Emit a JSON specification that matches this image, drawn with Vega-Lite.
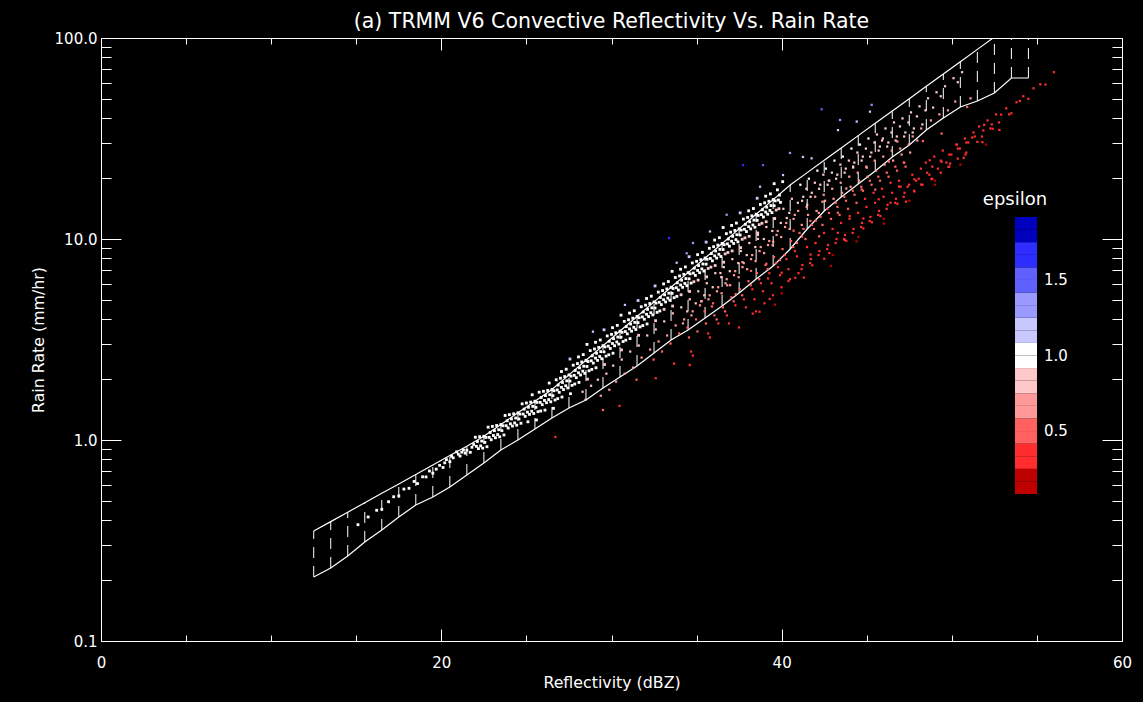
{
"$schema": "https://vega.github.io/schema/vega-lite/v6.json",
"autosize": {"type": "none"},
"padding": {"left": 101, "top": 38, "right": 21, "bottom": 61},
"width": 1021,
"height": 603,
"background": "black",
"title": {"text": "(a) TRMM V6 Convective Reflectivity Vs. Rain Rate", "color": "white", "fontSize": 20.5, "fontWeight": "normal", "font": "DejaVu Sans", "anchor": "middle", "frame": "group", "baseline": "alphabetic", "offset": 10, "dy": 27},
"config": {
  "font": "DejaVu Sans",
  "view": {"stroke": "white", "strokeWidth": 1, "fill": "black"},
  "axis": {"labelColor": "white", "titleColor": "white", "tickColor": "white", "domainColor": "white", "labelFont": "DejaVu Sans", "titleFont": "DejaVu Sans", "titleFontWeight": "normal", "grid": false, "labelFontSize": 15, "titleFontSize": 15.8, "tickWidth": 1, "labelFlush": false, "labelOverlap": false}
},
"datasets": {
"env": [
{"dbz":12.5,"lo":0.2082,"hi":0.3526},{"dbz":13.5,"lo":0.2307,"hi":0.3926},{"dbz":14.5,"lo":0.2648,"hi":0.4372},{"dbz":15.5,"lo":0.3109,"hi":0.4876},{"dbz":16.5,"lo":0.3566,"hi":0.543},{"dbz":17.5,"lo":0.4139,"hi":0.6046},{"dbz":18.5,"lo":0.4749,"hi":0.6734},{"dbz":19.5,"lo":0.5205,"hi":0.7511},{"dbz":20.5,"lo":0.5835,"hi":0.8365},{"dbz":21.5,"lo":0.6695,"hi":0.9311},{"dbz":22.5,"lo":0.7683,"hi":1.0445},{"dbz":23.5,"lo":0.8917,"hi":1.194},{"dbz":24.5,"lo":1.0,"hi":1.365},{"dbz":25.5,"lo":1.1342,"hi":1.56},{"dbz":26.5,"lo":1.2868,"hi":1.783},{"dbz":27.5,"lo":1.443,"hi":2.108},{"dbz":28.5,"lo":1.5812,"hi":2.492},{"dbz":29.5,"lo":1.8143,"hi":2.946},{"dbz":30.5,"lo":2.0582,"hi":3.483},{"dbz":31.5,"lo":2.3342,"hi":4.118},{"dbz":32.5,"lo":2.7088,"hi":4.867},{"dbz":33.5,"lo":3.1443,"hi":5.754},{"dbz":34.5,"lo":3.5268,"hi":6.803},{"dbz":35.5,"lo":4.0458,"hi":8.038},{"dbz":36.5,"lo":4.6416,"hi":9.504},{"dbz":37.5,"lo":5.3857,"hi":11.23},{"dbz":38.5,"lo":6.3241,"hi":13.28},{"dbz":39.5,"lo":7.3389,"hi":15.7},{"dbz":40.5,"lo":8.9182,"hi":18.56},{"dbz":41.5,"lo":11.215,"hi":21.39},{"dbz":42.5,"lo":13.784,"hi":24.64},{"dbz":43.5,"lo":16.181,"hi":28.38},{"dbz":44.5,"lo":18.775,"hi":32.68},{"dbz":45.5,"lo":21.79,"hi":37.63},{"dbz":46.5,"lo":25.59,"hi":43.34},{"dbz":47.5,"lo":29.36,"hi":49.9},{"dbz":48.5,"lo":34.85,"hi":57.47},{"dbz":49.5,"lo":39.99,"hi":66.19},{"dbz":50.5,"lo":45.37,"hi":76.21},{"dbz":51.5,"lo":48.6,"hi":87.77},{"dbz":52.5,"lo":53.27,"hi":101.1},{"dbz":53.5,"lo":63.24,"hi":116.4},{"dbz":54.5,"lo":63.24,"hi":134.0}
],
"band": [
{"dbz":15.1,"rate":0.379,"eps":1},{"dbz":15.7,"rate":0.414,"eps":1},{"dbz":16.2,"rate":0.447,"eps":1},{"dbz":16.5,"rate":0.452,"eps":1},{"dbz":16.9,"rate":0.493,"eps":1},{"dbz":17.2,"rate":0.522,"eps":1},{"dbz":17.5,"rate":0.527,"eps":1},{"dbz":17.8,"rate":0.57,"eps":1},{"dbz":18.1,"rate":0.575,"eps":1},{"dbz":18.4,"rate":0.622,"eps":1},{"dbz":18.6,"rate":0.607,"eps":1},{"dbz":18.9,"rate":0.656,"eps":1},{"dbz":19.1,"rate":0.655,"eps":1},{"dbz":19.3,"rate":0.701,"eps":1},{"dbz":19.5,"rate":0.684,"eps":1},{"dbz":19.7,"rate":0.716,"eps":1},{"dbz":19.9,"rate":0.748,"eps":1},{"dbz":20.1,"rate":0.73,"eps":1},{"dbz":20.2,"rate":0.77,"eps":1},{"dbz":20.3,"rate":0.799,"eps":1},{"dbz":20.5,"rate":0.78,"eps":1},{"dbz":20.6,"rate":0.83,"eps":1},{"dbz":20.7,"rate":0.815,"eps":1},{"dbz":20.9,"rate":0.873,"eps":1},{"dbz":21.0,"rate":0.85,"eps":1},{"dbz":21.1,"rate":0.832,"eps":1},{"dbz":21.2,"rate":0.87,"eps":1},{"dbz":21.3,"rate":0.891,"eps":1},{"dbz":21.4,"rate":0.86,"eps":1},{"dbz":21.5,"rate":0.889,"eps":1},{"dbz":21.7,"rate":0.868,"eps":1},{"dbz":21.8,"rate":0.92,"eps":1},{"dbz":21.9,"rate":0.95,"eps":1},
{"dbz":22.0,"rate":1.032,"eps":1},{"dbz":22.12,"rate":0.983,"eps":1},{"dbz":22.06,"rate":0.93,"eps":1},{"dbz":22.18,"rate":0.906,"eps":1},
{"dbz":22.25,"rate":1.038,"eps":1},{"dbz":22.37,"rate":0.988,"eps":1},{"dbz":22.31,"rate":0.935,"eps":1},{"dbz":22.43,"rate":0.911,"eps":1},
{"dbz":22.5,"rate":1.044,"eps":1},{"dbz":22.62,"rate":1.03,"eps":1},{"dbz":22.56,"rate":0.973,"eps":1},{"dbz":22.68,"rate":0.926,"eps":1},
{"dbz":22.75,"rate":1.158,"eps":1},{"dbz":22.87,"rate":1.09,"eps":1},{"dbz":22.81,"rate":1.03,"eps":1},{"dbz":22.93,"rate":1.003,"eps":1},
{"dbz":23.0,"rate":1.169,"eps":1},{"dbz":23.12,"rate":1.113,"eps":1},{"dbz":23.06,"rate":1.053,"eps":1},{"dbz":23.18,"rate":1.026,"eps":1},
{"dbz":23.25,"rate":1.181,"eps":1},{"dbz":23.37,"rate":1.125,"eps":1},{"dbz":23.31,"rate":1.064,"eps":1},{"dbz":23.43,"rate":1.037,"eps":1},
{"dbz":23.5,"rate":1.194,"eps":1},{"dbz":23.62,"rate":1.177,"eps":1},{"dbz":23.56,"rate":1.113,"eps":1},{"dbz":23.68,"rate":1.059,"eps":1},
{"dbz":23.75,"rate":1.324,"eps":1},{"dbz":23.87,"rate":1.246,"eps":1},{"dbz":23.81,"rate":1.178,"eps":1},{"dbz":23.93,"rate":1.147,"eps":1},
{"dbz":24.0,"rate":1.337,"eps":1},{"dbz":24.12,"rate":1.273,"eps":1},{"dbz":24.06,"rate":1.204,"eps":1},{"dbz":24.18,"rate":1.173,"eps":1},
{"dbz":24.25,"rate":1.35,"eps":1},{"dbz":24.37,"rate":1.286,"eps":1},{"dbz":24.31,"rate":1.216,"eps":1},{"dbz":24.43,"rate":1.185,"eps":1},
{"dbz":24.5,"rate":1.365,"eps":1},{"dbz":24.62,"rate":1.346,"eps":1},{"dbz":24.56,"rate":1.272,"eps":1},{"dbz":24.68,"rate":1.211,"eps":1},
{"dbz":24.75,"rate":1.513,"eps":1},{"dbz":24.87,"rate":1.424,"eps":1},{"dbz":24.81,"rate":1.346,"eps":1},{"dbz":24.93,"rate":1.311,"eps":1},
{"dbz":25.0,"rate":1.528,"eps":1},{"dbz":25.12,"rate":1.455,"eps":1},{"dbz":25.06,"rate":1.376,"eps":1},{"dbz":25.18,"rate":1.341,"eps":1},{"dbz":25.09,"rate":1.232,"eps":1},
{"dbz":25.25,"rate":1.544,"eps":1},{"dbz":25.37,"rate":1.47,"eps":1},{"dbz":25.31,"rate":1.39,"eps":1},{"dbz":25.43,"rate":1.355,"eps":1},{"dbz":25.34,"rate":1.679,"eps":1},
{"dbz":25.5,"rate":1.56,"eps":1},{"dbz":25.62,"rate":1.538,"eps":1},{"dbz":25.56,"rate":1.454,"eps":1},{"dbz":25.68,"rate":1.384,"eps":1},{"dbz":25.59,"rate":1.258,"eps":1},
{"dbz":25.75,"rate":1.729,"eps":1},{"dbz":25.87,"rate":1.628,"eps":1},{"dbz":25.81,"rate":1.539,"eps":1},{"dbz":25.93,"rate":1.499,"eps":1},{"dbz":25.84,"rate":1.394,"eps":1},
{"dbz":26.0,"rate":1.747,"eps":1},{"dbz":26.12,"rate":1.663,"eps":1},{"dbz":26.06,"rate":1.573,"eps":1},{"dbz":26.18,"rate":1.533,"eps":1},{"dbz":26.09,"rate":1.408,"eps":1},
{"dbz":26.25,"rate":1.764,"eps":1},{"dbz":26.37,"rate":1.68,"eps":1},{"dbz":26.31,"rate":1.589,"eps":1},{"dbz":26.43,"rate":1.549,"eps":1},{"dbz":26.34,"rate":1.92,"eps":1},
{"dbz":26.5,"rate":1.784,"eps":1},{"dbz":26.62,"rate":1.759,"eps":1},{"dbz":26.56,"rate":1.662,"eps":1},{"dbz":26.68,"rate":1.582,"eps":1},{"dbz":26.59,"rate":1.437,"eps":1},
{"dbz":26.75,"rate":1.993,"eps":1},{"dbz":26.87,"rate":1.876,"eps":1},{"dbz":26.81,"rate":1.774,"eps":1},{"dbz":26.93,"rate":1.727,"eps":1},{"dbz":26.84,"rate":1.606,"eps":1},
{"dbz":27.0,"rate":2.03,"eps":1},{"dbz":27.12,"rate":1.933,"eps":1},{"dbz":27.06,"rate":1.828,"eps":1},{"dbz":27.18,"rate":1.782,"eps":1},{"dbz":27.09,"rate":1.636,"eps":1},
{"dbz":27.25,"rate":2.068,"eps":1},{"dbz":27.37,"rate":1.969,"eps":1},{"dbz":27.31,"rate":1.862,"eps":1},{"dbz":27.43,"rate":1.815,"eps":1},{"dbz":27.34,"rate":2.25,"eps":1},
{"dbz":27.5,"rate":2.108,"eps":1},{"dbz":27.62,"rate":2.078,"eps":1},{"dbz":27.56,"rate":1.965,"eps":1},{"dbz":27.68,"rate":1.87,"eps":1},{"dbz":27.59,"rate":1.699,"eps":1},
{"dbz":27.75,"rate":2.356,"eps":1},{"dbz":27.87,"rate":2.218,"eps":1},{"dbz":27.81,"rate":2.097,"eps":1},{"dbz":27.93,"rate":2.042,"eps":1},{"dbz":27.84,"rate":1.899,"eps":1},
{"dbz":28.0,"rate":2.4,"eps":1},{"dbz":28.12,"rate":2.285,"eps":1},{"dbz":28.06,"rate":2.161,"eps":1},{"dbz":28.18,"rate":2.106,"eps":1},{"dbz":28.09,"rate":1.934,"eps":1},
{"dbz":28.25,"rate":2.445,"eps":1},{"dbz":28.37,"rate":2.328,"eps":1},{"dbz":28.31,"rate":2.201,"eps":1},{"dbz":28.43,"rate":2.146,"eps":1},{"dbz":28.34,"rate":2.66,"eps":1},
{"dbz":28.5,"rate":2.492,"eps":1},{"dbz":28.62,"rate":2.457,"eps":1},{"dbz":28.56,"rate":2.322,"eps":1},{"dbz":28.68,"rate":2.21,"eps":1},{"dbz":28.59,"rate":2.008,"eps":0.85},
{"dbz":28.75,"rate":2.785,"eps":1},{"dbz":28.87,"rate":2.622,"eps":1},{"dbz":28.81,"rate":2.479,"eps":1},{"dbz":28.93,"rate":2.414,"eps":1},{"dbz":28.84,"rate":2.245,"eps":1},
{"dbz":29.0,"rate":2.837,"eps":1},{"dbz":29.12,"rate":2.701,"eps":1},{"dbz":29.06,"rate":2.555,"eps":1},{"dbz":29.18,"rate":2.49,"eps":1},{"dbz":29.09,"rate":2.287,"eps":1},
{"dbz":29.25,"rate":2.89,"eps":1},{"dbz":29.37,"rate":2.752,"eps":1},{"dbz":29.31,"rate":2.602,"eps":1},{"dbz":29.43,"rate":2.537,"eps":1},{"dbz":29.34,"rate":3.144,"eps":1},
{"dbz":29.5,"rate":2.946,"eps":1},{"dbz":29.62,"rate":2.905,"eps":1},{"dbz":29.56,"rate":2.746,"eps":1},{"dbz":29.68,"rate":2.613,"eps":1},{"dbz":29.59,"rate":2.374,"eps":0.85},
{"dbz":29.75,"rate":3.293,"eps":1},{"dbz":29.87,"rate":3.099,"eps":1},{"dbz":29.81,"rate":2.93,"eps":1},{"dbz":29.93,"rate":2.854,"eps":1},{"dbz":29.84,"rate":2.654,"eps":1},
{"dbz":30.0,"rate":3.354,"eps":1},{"dbz":30.12,"rate":3.193,"eps":1},{"dbz":30.06,"rate":3.021,"eps":1},{"dbz":30.18,"rate":2.944,"eps":1},{"dbz":30.09,"rate":2.703,"eps":1},
{"dbz":30.25,"rate":3.417,"eps":1},{"dbz":30.37,"rate":3.253,"eps":1},{"dbz":30.31,"rate":3.076,"eps":1},{"dbz":30.43,"rate":2.999,"eps":1},{"dbz":30.34,"rate":3.717,"eps":1},
{"dbz":30.5,"rate":3.483,"eps":1},{"dbz":30.62,"rate":3.434,"eps":1},{"dbz":30.56,"rate":3.246,"eps":1},{"dbz":30.68,"rate":3.089,"eps":1},{"dbz":30.59,"rate":2.807,"eps":0.85},
{"dbz":30.75,"rate":3.893,"eps":1},{"dbz":30.87,"rate":3.664,"eps":1},{"dbz":30.81,"rate":3.464,"eps":1},{"dbz":30.93,"rate":3.374,"eps":1},{"dbz":30.84,"rate":3.138,"eps":1},
{"dbz":31.0,"rate":3.965,"eps":1},{"dbz":31.12,"rate":3.775,"eps":1},{"dbz":31.06,"rate":3.571,"eps":1},{"dbz":31.18,"rate":3.48,"eps":1},{"dbz":31.09,"rate":3.196,"eps":1},
{"dbz":31.25,"rate":4.039,"eps":1},{"dbz":31.37,"rate":3.846,"eps":1},{"dbz":31.31,"rate":3.637,"eps":1},{"dbz":31.43,"rate":3.546,"eps":1},{"dbz":31.34,"rate":4.395,"eps":1},
{"dbz":31.5,"rate":4.117,"eps":1},{"dbz":31.62,"rate":4.06,"eps":1},{"dbz":31.56,"rate":3.837,"eps":1},{"dbz":31.68,"rate":3.652,"eps":1},{"dbz":31.59,"rate":3.318,"eps":0.85},
{"dbz":31.75,"rate":4.602,"eps":1},{"dbz":31.87,"rate":4.332,"eps":1},{"dbz":31.81,"rate":4.096,"eps":1},{"dbz":31.93,"rate":3.988,"eps":1},{"dbz":31.84,"rate":3.709,"eps":1},
{"dbz":32.0,"rate":4.687,"eps":1},{"dbz":32.12,"rate":4.463,"eps":1},{"dbz":32.06,"rate":4.221,"eps":1},{"dbz":32.18,"rate":4.114,"eps":1},{"dbz":32.09,"rate":3.778,"eps":1},
{"dbz":32.25,"rate":4.775,"eps":1},{"dbz":32.37,"rate":4.546,"eps":1},{"dbz":32.31,"rate":4.299,"eps":1},{"dbz":32.43,"rate":4.192,"eps":1},{"dbz":32.34,"rate":5.195,"eps":1},
{"dbz":32.5,"rate":4.867,"eps":1},{"dbz":32.62,"rate":4.799,"eps":1},{"dbz":32.56,"rate":4.536,"eps":1},{"dbz":32.68,"rate":4.317,"eps":1},{"dbz":32.59,"rate":3.923,"eps":0.85},
{"dbz":32.75,"rate":5.441,"eps":1},{"dbz":32.87,"rate":5.121,"eps":1},{"dbz":32.81,"rate":4.842,"eps":1},{"dbz":32.93,"rate":4.715,"eps":1},{"dbz":32.84,"rate":4.385,"eps":1},
{"dbz":33.0,"rate":5.541,"eps":1},{"dbz":33.12,"rate":5.276,"eps":1},{"dbz":33.06,"rate":4.991,"eps":1},{"dbz":33.18,"rate":4.864,"eps":1},{"dbz":33.09,"rate":4.467,"eps":0.88},
{"dbz":33.25,"rate":5.645,"eps":1},{"dbz":33.37,"rate":5.375,"eps":1},{"dbz":33.31,"rate":5.082,"eps":1},{"dbz":33.43,"rate":4.955,"eps":1},{"dbz":33.34,"rate":6.142,"eps":1},
{"dbz":33.5,"rate":5.754,"eps":1},{"dbz":33.62,"rate":5.674,"eps":1},{"dbz":33.56,"rate":5.363,"eps":1},{"dbz":33.68,"rate":5.104,"eps":1},{"dbz":33.59,"rate":4.638,"eps":0.85},
{"dbz":33.75,"rate":6.432,"eps":1},{"dbz":33.87,"rate":6.054,"eps":1},{"dbz":33.81,"rate":5.724,"eps":1},{"dbz":33.93,"rate":5.574,"eps":1},{"dbz":33.84,"rate":5.184,"eps":1},
{"dbz":34.0,"rate":6.55,"eps":1},{"dbz":34.12,"rate":6.238,"eps":1},{"dbz":34.06,"rate":5.9,"eps":1},{"dbz":34.18,"rate":5.75,"eps":1},{"dbz":34.09,"rate":5.28,"eps":0.88},
{"dbz":34.25,"rate":6.674,"eps":1},{"dbz":34.37,"rate":6.354,"eps":1},{"dbz":34.31,"rate":6.008,"eps":1},{"dbz":34.43,"rate":5.858,"eps":1},{"dbz":34.34,"rate":7.261,"eps":1},
{"dbz":34.5,"rate":6.803,"eps":1},{"dbz":34.62,"rate":6.707,"eps":1},{"dbz":34.56,"rate":6.34,"eps":1},{"dbz":34.68,"rate":6.034,"eps":1},{"dbz":34.59,"rate":5.483,"eps":0.85},
{"dbz":34.75,"rate":7.604,"eps":1},{"dbz":34.87,"rate":7.157,"eps":1},{"dbz":34.81,"rate":6.767,"eps":1},{"dbz":34.93,"rate":6.59,"eps":1},{"dbz":34.84,"rate":6.129,"eps":0.88},
{"dbz":35.0,"rate":7.744,"eps":1},{"dbz":35.12,"rate":7.374,"eps":1},{"dbz":35.06,"rate":6.975,"eps":1},{"dbz":35.18,"rate":6.797,"eps":1},{"dbz":35.09,"rate":6.243,"eps":0.88},
{"dbz":35.25,"rate":7.89,"eps":1},{"dbz":35.37,"rate":7.512,"eps":1},{"dbz":35.31,"rate":7.103,"eps":1},{"dbz":35.43,"rate":6.926,"eps":1},{"dbz":35.34,"rate":8.584,"eps":1},
{"dbz":35.5,"rate":8.042,"eps":1},{"dbz":35.62,"rate":7.929,"eps":1},{"dbz":35.56,"rate":7.495,"eps":1},{"dbz":35.68,"rate":7.133,"eps":0.88},{"dbz":35.59,"rate":6.482,"eps":0.85},
{"dbz":35.75,"rate":8.989,"eps":1},{"dbz":35.87,"rate":8.461,"eps":1},{"dbz":35.81,"rate":8.0,"eps":1},{"dbz":35.93,"rate":7.79,"eps":1},{"dbz":35.84,"rate":7.245,"eps":0.88},
{"dbz":36.0,"rate":9.155,"eps":1},{"dbz":36.12,"rate":8.718,"eps":1},{"dbz":36.06,"rate":8.245,"eps":1},{"dbz":36.18,"rate":8.036,"eps":1},{"dbz":36.09,"rate":7.38,"eps":0.88},
{"dbz":36.25,"rate":9.327,"eps":1},{"dbz":36.37,"rate":8.88,"eps":1},{"dbz":36.31,"rate":8.397,"eps":1},{"dbz":36.43,"rate":8.187,"eps":1},{"dbz":36.34,"rate":10.15,"eps":1},
{"dbz":36.5,"rate":9.507,"eps":1},{"dbz":36.62,"rate":9.374,"eps":1},{"dbz":36.56,"rate":8.861,"eps":1},{"dbz":36.68,"rate":8.433,"eps":0.88},{"dbz":36.59,"rate":7.663,"eps":0.85},
{"dbz":36.75,"rate":10.63,"eps":1},{"dbz":36.87,"rate":10.0,"eps":1},{"dbz":36.81,"rate":9.457,"eps":1},{"dbz":36.93,"rate":9.209,"eps":1},{"dbz":36.84,"rate":8.565,"eps":0.88},
{"dbz":37.0,"rate":10.82,"eps":1},{"dbz":37.12,"rate":10.31,"eps":1},{"dbz":37.06,"rate":9.748,"eps":1},{"dbz":37.18,"rate":9.5,"eps":1},{"dbz":37.09,"rate":8.724,"eps":0.88},
{"dbz":37.25,"rate":11.03,"eps":1},{"dbz":37.37,"rate":10.5,"eps":1},{"dbz":37.31,"rate":9.927,"eps":1},{"dbz":37.43,"rate":9.68,"eps":1},{"dbz":37.34,"rate":12.0,"eps":1},
{"dbz":37.5,"rate":11.24,"eps":1},{"dbz":37.62,"rate":11.08,"eps":1},{"dbz":37.56,"rate":10.47,"eps":1},{"dbz":37.68,"rate":9.969,"eps":0.88},{"dbz":37.59,"rate":9.059,"eps":0.85},
{"dbz":37.75,"rate":12.56,"eps":1},{"dbz":37.87,"rate":11.83,"eps":1},{"dbz":37.81,"rate":11.18,"eps":1},{"dbz":37.93,"rate":10.89,"eps":1},{"dbz":37.84,"rate":10.13,"eps":0.88},
{"dbz":38.0,"rate":12.8,"eps":1},{"dbz":38.12,"rate":12.18,"eps":1},{"dbz":38.06,"rate":11.52,"eps":1},{"dbz":38.18,"rate":11.23,"eps":1},{"dbz":38.09,"rate":10.31,"eps":0.88},
{"dbz":38.25,"rate":13.04,"eps":1},{"dbz":38.37,"rate":12.41,"eps":1},{"dbz":38.31,"rate":11.74,"eps":1},{"dbz":38.43,"rate":11.44,"eps":1},{"dbz":38.34,"rate":14.18,"eps":1},
{"dbz":38.5,"rate":13.29,"eps":1},{"dbz":38.62,"rate":13.1,"eps":1},{"dbz":38.56,"rate":12.38,"eps":1},{"dbz":38.68,"rate":11.79,"eps":0.88},{"dbz":38.59,"rate":10.71,"eps":0.85},
{"dbz":38.75,"rate":14.85,"eps":1},{"dbz":38.87,"rate":13.98,"eps":1},{"dbz":38.81,"rate":13.22,"eps":1},{"dbz":38.93,"rate":12.87,"eps":1},{"dbz":38.84,"rate":11.97,"eps":0.88},
{"dbz":39.0,"rate":15.13,"eps":1},{"dbz":39.12,"rate":14.4,"eps":1},{"dbz":39.06,"rate":13.62,"eps":1},{"dbz":39.18,"rate":13.28,"eps":1},{"dbz":39.09,"rate":12.19,"eps":0.88},
{"dbz":39.25,"rate":15.41,"eps":1},{"dbz":39.37,"rate":14.67,"eps":1},{"dbz":39.31,"rate":13.87,"eps":1},{"dbz":39.43,"rate":13.53,"eps":1},{"dbz":39.34,"rate":16.77,"eps":1},
{"dbz":39.5,"rate":15.71,"eps":1},{"dbz":39.62,"rate":15.49,"eps":1},{"dbz":39.56,"rate":14.64,"eps":1},{"dbz":39.68,"rate":13.93,"eps":0.88},{"dbz":39.59,"rate":12.66,"eps":0.85},
{"dbz":39.75,"rate":17.56,"eps":1},{"dbz":39.87,"rate":16.53,"eps":1},{"dbz":39.81,"rate":15.63,"eps":1},{"dbz":39.93,"rate":15.22,"eps":1},{"dbz":39.84,"rate":14.15,"eps":0.88},
{"dbz":27.06,"rate":2.191,"eps":1},{"dbz":28.06,"rate":2.59,"eps":1},{"dbz":29.06,"rate":3.062,"eps":1},{"dbz":30.06,"rate":3.62,"eps":1},{"dbz":31.06,"rate":4.279,"eps":1},{"dbz":32.06,"rate":5.058,"eps":1},{"dbz":33.06,"rate":5.98,"eps":1},{"dbz":34.06,"rate":7.07,"eps":1},{"dbz":35.06,"rate":8.358,"eps":1},{"dbz":36.06,"rate":9.881,"eps":1},{"dbz":37.06,"rate":11.68,"eps":1},{"dbz":38.06,"rate":13.81,"eps":1},{"dbz":39.06,"rate":16.33,"eps":1},{"dbz":40.06,"rate":19.29,"eps":1},
{"dbz":27.56,"rate":2.529,"eps":1.15},{"dbz":28.56,"rate":2.99,"eps":1},{"dbz":29.56,"rate":3.535,"eps":1.15},{"dbz":30.56,"rate":4.179,"eps":1},{"dbz":31.56,"rate":4.941,"eps":1.15},{"dbz":32.56,"rate":5.841,"eps":1.15},{"dbz":33.56,"rate":6.905,"eps":1},{"dbz":34.56,"rate":8.163,"eps":1.15},{"dbz":35.56,"rate":9.65,"eps":1.15},{"dbz":36.56,"rate":11.41,"eps":1},{"dbz":37.56,"rate":13.49,"eps":1.15},{"dbz":38.56,"rate":15.95,"eps":1.15},{"dbz":39.56,"rate":18.85,"eps":1}
],
"scatter": [
{"dbz":28.3,"rate":1.738,"eps":0.85},{"dbz":28.47,"rate":1.585,"eps":0.8},{"dbz":28.8,"rate":1.862,"eps":0.85},{"dbz":29.2,"rate":1.995,"eps":0.85},{"dbz":29.37,"rate":1.66,"eps":0.7},{"dbz":29.7,"rate":2.138,"eps":0.85},{"dbz":29.87,"rate":1.778,"eps":0.7},{"dbz":30.1,"rate":2.344,"eps":0.85},{"dbz":30.27,"rate":1.95,"eps":0.7},
{"dbz":30.6,"rate":2.512,"eps":0.85},{"dbz":30.77,"rate":2.138,"eps":0.7},{"dbz":30.47,"rate":1.479,"eps":0.35},{"dbz":31.1,"rate":2.754,"eps":0.85},{"dbz":31.27,"rate":2.291,"eps":0.7},
{"dbz":31.6,"rate":2.951,"eps":0.85},{"dbz":31.77,"rate":2.57,"eps":0.7},{"dbz":31.47,"rate":1.995,"eps":0.5},{"dbz":32.1,"rate":3.311,"eps":0.85},{"dbz":32.27,"rate":2.818,"eps":0.7},
{"dbz":32.6,"rate":3.548,"eps":0.85},{"dbz":32.77,"rate":3.09,"eps":0.7},{"dbz":32.47,"rate":2.512,"eps":0.55},{"dbz":33.1,"rate":3.89,"eps":0.85},{"dbz":33.27,"rate":3.311,"eps":0.7},{"dbz":32.97,"rate":2.754,"eps":0.55},
{"dbz":33.6,"rate":4.266,"eps":0.85},{"dbz":33.77,"rate":3.715,"eps":0.7},{"dbz":33.47,"rate":3.02,"eps":0.55},{"dbz":33.68,"rate":2.399,"eps":0.35},
{"dbz":34.1,"rate":4.571,"eps":0.85},{"dbz":34.27,"rate":3.981,"eps":0.7},{"dbz":33.97,"rate":3.388,"eps":0.55},
{"dbz":34.6,"rate":5.012,"eps":0.85},{"dbz":34.77,"rate":4.365,"eps":0.7},{"dbz":34.47,"rate":3.631,"eps":0.55},{"dbz":34.68,"rate":2.754,"eps":0.35},
{"dbz":35.1,"rate":5.495,"eps":0.85},{"dbz":35.27,"rate":4.898,"eps":0.7},{"dbz":34.97,"rate":3.981,"eps":0.55},
{"dbz":35.6,"rate":6.026,"eps":0.85},{"dbz":35.77,"rate":5.248,"eps":0.7},{"dbz":35.47,"rate":4.365,"eps":0.55},{"dbz":35.68,"rate":3.388,"eps":0.35},
{"dbz":36.1,"rate":6.761,"eps":0.85},{"dbz":36.27,"rate":5.754,"eps":0.7},{"dbz":35.97,"rate":4.786,"eps":0.55},{"dbz":36.18,"rate":3.981,"eps":0.42},
{"dbz":36.6,"rate":7.244,"eps":0.85},{"dbz":36.77,"rate":6.31,"eps":0.7},{"dbz":36.47,"rate":5.37,"eps":0.6},{"dbz":36.68,"rate":4.365,"eps":0.42},
{"dbz":37.1,"rate":7.943,"eps":0.85},{"dbz":37.27,"rate":6.918,"eps":0.7},{"dbz":36.97,"rate":5.888,"eps":0.6},{"dbz":37.18,"rate":4.898,"eps":0.45},{"dbz":36.9,"rate":3.802,"eps":0.3},
{"dbz":37.6,"rate":8.71,"eps":0.85},{"dbz":37.77,"rate":7.586,"eps":0.7},{"dbz":37.47,"rate":6.457,"eps":0.6},{"dbz":37.68,"rate":5.248,"eps":0.42},
{"dbz":38.1,"rate":9.55,"eps":0.85},{"dbz":38.27,"rate":8.318,"eps":0.7},{"dbz":37.97,"rate":7.079,"eps":0.6},{"dbz":38.18,"rate":5.888,"eps":0.45},{"dbz":37.9,"rate":4.571,"eps":0.3},
{"dbz":38.6,"rate":10.47,"eps":0.85},{"dbz":38.77,"rate":9.12,"eps":0.7},{"dbz":38.47,"rate":7.762,"eps":0.6},{"dbz":38.68,"rate":6.31,"eps":0.45},{"dbz":38.4,"rate":5.012,"eps":0.3},
{"dbz":39.1,"rate":11.48,"eps":0.85},{"dbz":39.27,"rate":9.772,"eps":0.7},{"dbz":38.97,"rate":8.511,"eps":0.6},{"dbz":39.18,"rate":7.079,"eps":0.45},{"dbz":38.9,"rate":5.495,"eps":0.3},
{"dbz":39.6,"rate":12.59,"eps":0.85},{"dbz":39.77,"rate":10.96,"eps":0.7},{"dbz":39.47,"rate":9.333,"eps":0.6},{"dbz":39.68,"rate":7.586,"eps":0.45},{"dbz":39.4,"rate":6.026,"eps":0.3},
{"dbz":40.1,"rate":14.13,"eps":0.9},{"dbz":40.27,"rate":12.02,"eps":0.7},{"dbz":39.97,"rate":10.23,"eps":0.6},{"dbz":40.18,"rate":8.318,"eps":0.45},{"dbz":39.9,"rate":6.607,"eps":0.3},
{"dbz":40.6,"rate":15.85,"eps":0.9},{"dbz":40.77,"rate":13.18,"eps":0.7},{"dbz":40.47,"rate":11.22,"eps":0.6},{"dbz":40.68,"rate":9.12,"eps":0.45},{"dbz":40.4,"rate":7.079,"eps":0.3},
{"dbz":41.1,"rate":18.62,"eps":1},{"dbz":41.27,"rate":16.22,"eps":0.85},{"dbz":40.97,"rate":13.8,"eps":0.7},{"dbz":41.18,"rate":11.75,"eps":0.6},{"dbz":40.9,"rate":9.55,"eps":0.42},{"dbz":41.22,"rate":7.413,"eps":0.3},
{"dbz":41.6,"rate":19.95,"eps":1},{"dbz":41.77,"rate":16.98,"eps":0.85},{"dbz":41.47,"rate":14.45,"eps":0.7},{"dbz":41.68,"rate":12.3,"eps":0.55},{"dbz":41.4,"rate":10.0,"eps":0.42},{"dbz":41.72,"rate":7.943,"eps":0.3},
{"dbz":42.1,"rate":21.88,"eps":1},{"dbz":42.27,"rate":18.62,"eps":0.85},{"dbz":41.97,"rate":16.22,"eps":0.7},{"dbz":42.18,"rate":13.49,"eps":0.6},{"dbz":41.9,"rate":11.22,"eps":0.45},{"dbz":42.22,"rate":8.71,"eps":0.3},
{"dbz":42.6,"rate":22.39,"eps":0.95},{"dbz":42.77,"rate":19.5,"eps":0.85},{"dbz":42.47,"rate":16.6,"eps":0.7},{"dbz":42.68,"rate":14.13,"eps":0.55},{"dbz":42.4,"rate":11.75,"eps":0.42},{"dbz":42.72,"rate":9.333,"eps":0.3},
{"dbz":43.1,"rate":24.55,"eps":1},{"dbz":43.27,"rate":20.89,"eps":0.85},{"dbz":42.97,"rate":17.78,"eps":0.7},{"dbz":43.18,"rate":15.14,"eps":0.55},{"dbz":42.9,"rate":12.59,"eps":0.42},{"dbz":43.22,"rate":10.0,"eps":0.3},
{"dbz":43.6,"rate":25.7,"eps":0.95},{"dbz":43.77,"rate":22.39,"eps":0.85},{"dbz":43.47,"rate":19.05,"eps":0.7},{"dbz":43.68,"rate":16.22,"eps":0.55},{"dbz":43.4,"rate":13.18,"eps":0.42},{"dbz":43.72,"rate":10.47,"eps":0.3},
{"dbz":44.1,"rate":28.18,"eps":1},{"dbz":44.27,"rate":23.99,"eps":0.85},{"dbz":43.97,"rate":20.42,"eps":0.7},{"dbz":44.18,"rate":17.38,"eps":0.55},{"dbz":43.9,"rate":14.13,"eps":0.42},{"dbz":44.22,"rate":11.22,"eps":0.3},
{"dbz":44.6,"rate":29.51,"eps":0.95},{"dbz":44.77,"rate":25.7,"eps":0.85},{"dbz":44.47,"rate":21.38,"eps":0.7},{"dbz":44.68,"rate":18.2,"eps":0.55},{"dbz":44.4,"rate":15.14,"eps":0.42},{"dbz":44.72,"rate":12.02,"eps":0.3},
{"dbz":45.1,"rate":31.62,"eps":0.95},{"dbz":45.27,"rate":26.92,"eps":0.85},{"dbz":44.97,"rate":22.91,"eps":0.7},{"dbz":45.18,"rate":19.5,"eps":0.55},{"dbz":44.9,"rate":15.85,"eps":0.4},{"dbz":45.22,"rate":12.88,"eps":0.3},
{"dbz":45.6,"rate":33.11,"eps":0.9},{"dbz":45.77,"rate":28.84,"eps":0.85},{"dbz":45.47,"rate":24.55,"eps":0.7},{"dbz":45.68,"rate":20.42,"eps":0.55},{"dbz":45.4,"rate":16.98,"eps":0.4},{"dbz":45.72,"rate":13.8,"eps":0.3},
{"dbz":46.1,"rate":35.48,"eps":0.9},{"dbz":46.27,"rate":30.2,"eps":0.8},{"dbz":45.97,"rate":25.7,"eps":0.65},{"dbz":46.18,"rate":21.38,"eps":0.5},{"dbz":45.9,"rate":17.78,"eps":0.38},{"dbz":46.22,"rate":14.79,"eps":0.3},
{"dbz":46.6,"rate":38.02,"eps":0.9},{"dbz":46.77,"rate":32.36,"eps":0.8},{"dbz":46.47,"rate":27.54,"eps":0.65},{"dbz":46.68,"rate":22.91,"eps":0.5},{"dbz":46.4,"rate":19.05,"eps":0.38},{"dbz":46.72,"rate":15.85,"eps":0.3},
{"dbz":47.1,"rate":39.81,"eps":0.9},{"dbz":47.27,"rate":33.88,"eps":0.8},{"dbz":46.97,"rate":28.18,"eps":0.62},{"dbz":47.18,"rate":23.99,"eps":0.5},{"dbz":46.9,"rate":19.5,"eps":0.35},{"dbz":47.22,"rate":16.98,"eps":0.3},
{"dbz":47.6,"rate":42.66,"eps":0.9},{"dbz":47.77,"rate":35.48,"eps":0.78},{"dbz":47.47,"rate":29.51,"eps":0.6},{"dbz":47.68,"rate":20.89,"eps":0.35},{"dbz":47.4,"rate":18.2,"eps":0.3},
{"dbz":48.1,"rate":45.71,"eps":0.9},{"dbz":48.27,"rate":37.15,"eps":0.75},{"dbz":47.97,"rate":30.9,"eps":0.6},{"dbz":48.18,"rate":22.39,"eps":0.35},{"dbz":47.9,"rate":19.5,"eps":0.3},
{"dbz":48.6,"rate":50.12,"eps":0.9},{"dbz":48.77,"rate":38.9,"eps":0.7},{"dbz":48.47,"rate":23.99,"eps":0.35},{"dbz":48.68,"rate":20.89,"eps":0.28},
{"dbz":49.1,"rate":53.7,"eps":0.9},{"dbz":49.27,"rate":41.69,"eps":0.7},{"dbz":48.97,"rate":25.7,"eps":0.35},{"dbz":49.18,"rate":22.39,"eps":0.28},
{"dbz":49.6,"rate":57.54,"eps":0.9},{"dbz":49.77,"rate":43.65,"eps":0.7},{"dbz":49.47,"rate":27.54,"eps":0.35},{"dbz":49.68,"rate":23.99,"eps":0.28},
{"dbz":50.1,"rate":63.1,"eps":0.9},{"dbz":50.27,"rate":29.51,"eps":0.35},{"dbz":49.97,"rate":26.3,"eps":0.28},
{"dbz":50.6,"rate":67.61,"eps":0.9},{"dbz":50.77,"rate":31.62,"eps":0.35},{"dbz":50.47,"rate":28.18,"eps":0.28},
{"dbz":51.1,"rate":50.12,"eps":0.62},{"dbz":51.27,"rate":33.88,"eps":0.35},{"dbz":50.97,"rate":30.2,"eps":0.28},
{"dbz":51.6,"rate":36.31,"eps":0.35},{"dbz":51.77,"rate":32.36,"eps":0.28},{"dbz":52.1,"rate":38.9,"eps":0.35},{"dbz":52.27,"rate":35.48,"eps":0.3},
{"dbz":52.6,"rate":41.69,"eps":0.3},{"dbz":52.77,"rate":38.02,"eps":0.28},{"dbz":53.2,"rate":44.67,"eps":0.3},{"dbz":53.37,"rate":41.69,"eps":0.28},
{"dbz":53.8,"rate":47.86,"eps":0.3},{"dbz":54.2,"rate":51.29,"eps":0.3},{"dbz":54.8,"rate":56.23,"eps":0.3},{"dbz":55.2,"rate":58.88,"eps":0.3},{"dbz":56.0,"rate":67.61,"eps":0.3},
{"dbz":34.45,"rate":4.365,"eps":0.75},{"dbz":34.2,"rate":3.802,"eps":0.62},{"dbz":34.55,"rate":3.236,"eps":0.5},
{"dbz":34.95,"rate":4.786,"eps":0.75},{"dbz":34.7,"rate":4.169,"eps":0.62},{"dbz":35.05,"rate":3.467,"eps":0.5},{"dbz":34.78,"rate":2.63,"eps":0.35},
{"dbz":35.45,"rate":5.248,"eps":0.75},{"dbz":35.2,"rate":4.677,"eps":0.62},{"dbz":35.55,"rate":3.802,"eps":0.5},
{"dbz":35.95,"rate":5.754,"eps":0.75},{"dbz":35.7,"rate":5.012,"eps":0.62},{"dbz":36.05,"rate":4.169,"eps":0.5},{"dbz":35.78,"rate":3.236,"eps":0.35},
{"dbz":36.45,"rate":6.457,"eps":0.8},{"dbz":36.2,"rate":5.495,"eps":0.62},{"dbz":36.55,"rate":4.571,"eps":0.5},{"dbz":36.28,"rate":3.802,"eps":0.4},
{"dbz":36.95,"rate":6.918,"eps":0.8},{"dbz":36.7,"rate":6.026,"eps":0.62},{"dbz":37.05,"rate":5.129,"eps":0.55},{"dbz":36.78,"rate":4.169,"eps":0.4},
{"dbz":37.45,"rate":7.586,"eps":0.8},{"dbz":37.2,"rate":6.607,"eps":0.62},{"dbz":37.55,"rate":5.623,"eps":0.55},{"dbz":37.28,"rate":4.677,"eps":0.4},{"dbz":37.49,"rate":3.631,"eps":0.3},
{"dbz":37.95,"rate":8.318,"eps":0.8},{"dbz":37.7,"rate":7.244,"eps":0.62},{"dbz":38.05,"rate":6.166,"eps":0.55},{"dbz":37.78,"rate":5.012,"eps":0.4},
{"dbz":38.45,"rate":9.12,"eps":0.8},{"dbz":38.2,"rate":7.943,"eps":0.62},{"dbz":38.55,"rate":6.761,"eps":0.55},{"dbz":38.28,"rate":5.623,"eps":0.4},{"dbz":38.49,"rate":4.365,"eps":0.28},
{"dbz":38.95,"rate":10.0,"eps":0.8},{"dbz":38.7,"rate":8.71,"eps":0.62},{"dbz":39.05,"rate":7.413,"eps":0.55},{"dbz":38.78,"rate":6.026,"eps":0.4},{"dbz":38.99,"rate":4.786,"eps":0.28},
{"dbz":39.45,"rate":10.96,"eps":0.8},{"dbz":39.2,"rate":9.333,"eps":0.62},{"dbz":39.55,"rate":8.128,"eps":0.55},{"dbz":39.28,"rate":6.761,"eps":0.4},{"dbz":39.49,"rate":5.248,"eps":0.28},
{"dbz":39.95,"rate":12.02,"eps":0.8},{"dbz":39.7,"rate":10.47,"eps":0.62},{"dbz":40.05,"rate":8.913,"eps":0.55},{"dbz":39.78,"rate":7.244,"eps":0.4},{"dbz":39.99,"rate":5.754,"eps":0.28},
{"dbz":40.45,"rate":13.49,"eps":0.8},{"dbz":40.2,"rate":11.48,"eps":0.62},{"dbz":40.55,"rate":9.772,"eps":0.55},{"dbz":40.28,"rate":7.943,"eps":0.4},{"dbz":40.49,"rate":6.31,"eps":0.28},
{"dbz":40.95,"rate":15.14,"eps":0.8},{"dbz":40.7,"rate":12.59,"eps":0.62},{"dbz":41.05,"rate":10.72,"eps":0.55},{"dbz":40.78,"rate":8.71,"eps":0.4},{"dbz":40.99,"rate":6.761,"eps":0.28},
{"dbz":41.45,"rate":17.78,"eps":0.9},{"dbz":41.2,"rate":15.49,"eps":0.8},{"dbz":41.55,"rate":13.18,"eps":0.62},{"dbz":41.28,"rate":11.22,"eps":0.55},{"dbz":41.49,"rate":9.12,"eps":0.4},{"dbz":41.17,"rate":7.079,"eps":0.28},
{"dbz":41.95,"rate":19.05,"eps":0.9},{"dbz":41.7,"rate":16.22,"eps":0.8},{"dbz":42.05,"rate":13.8,"eps":0.62},{"dbz":41.78,"rate":11.75,"eps":0.5},{"dbz":41.99,"rate":9.55,"eps":0.4},{"dbz":41.67,"rate":7.586,"eps":0.28},
{"dbz":42.45,"rate":20.89,"eps":0.9},{"dbz":42.2,"rate":17.78,"eps":0.8},{"dbz":42.55,"rate":15.49,"eps":0.62},{"dbz":42.28,"rate":12.88,"eps":0.55},{"dbz":42.49,"rate":10.72,"eps":0.4},{"dbz":42.17,"rate":8.318,"eps":0.28},
{"dbz":42.95,"rate":21.38,"eps":0.9},{"dbz":42.7,"rate":18.62,"eps":0.8},{"dbz":43.05,"rate":15.85,"eps":0.62},{"dbz":42.78,"rate":13.49,"eps":0.5},{"dbz":42.99,"rate":11.22,"eps":0.4},{"dbz":42.67,"rate":8.913,"eps":0.28},
{"dbz":43.45,"rate":23.44,"eps":0.9},{"dbz":43.2,"rate":19.95,"eps":0.8},{"dbz":43.55,"rate":16.98,"eps":0.62},{"dbz":43.28,"rate":14.45,"eps":0.5},{"dbz":43.49,"rate":12.02,"eps":0.4},{"dbz":43.17,"rate":9.55,"eps":0.28},
{"dbz":43.95,"rate":24.55,"eps":0.9},{"dbz":43.7,"rate":21.38,"eps":0.8},{"dbz":44.05,"rate":18.2,"eps":0.62},{"dbz":43.78,"rate":15.49,"eps":0.5},{"dbz":43.99,"rate":12.59,"eps":0.4},{"dbz":43.67,"rate":10.0,"eps":0.28},
{"dbz":44.45,"rate":26.92,"eps":0.9},{"dbz":44.2,"rate":22.91,"eps":0.8},{"dbz":44.55,"rate":19.5,"eps":0.62},{"dbz":44.28,"rate":16.6,"eps":0.5},{"dbz":44.49,"rate":13.49,"eps":0.4},{"dbz":44.17,"rate":10.72,"eps":0.28},
{"dbz":44.95,"rate":28.18,"eps":0.9},{"dbz":44.7,"rate":24.55,"eps":0.8},{"dbz":45.05,"rate":20.42,"eps":0.62},{"dbz":44.78,"rate":17.38,"eps":0.5},{"dbz":44.99,"rate":14.45,"eps":0.4},{"dbz":44.67,"rate":11.48,"eps":0.28},
{"dbz":45.45,"rate":30.2,"eps":0.9},{"dbz":45.2,"rate":25.7,"eps":0.8},{"dbz":45.55,"rate":21.88,"eps":0.62},{"dbz":45.28,"rate":18.62,"eps":0.5},{"dbz":45.49,"rate":15.14,"eps":0.38},{"dbz":45.17,"rate":12.3,"eps":0.28},
{"dbz":45.95,"rate":31.62,"eps":0.88},{"dbz":45.7,"rate":27.54,"eps":0.8},{"dbz":46.05,"rate":23.44,"eps":0.62},{"dbz":45.78,"rate":19.5,"eps":0.5},{"dbz":45.99,"rate":16.22,"eps":0.38},{"dbz":45.67,"rate":13.18,"eps":0.28},
{"dbz":46.45,"rate":33.88,"eps":0.88},{"dbz":46.2,"rate":28.84,"eps":0.75},{"dbz":46.55,"rate":24.55,"eps":0.6},{"dbz":46.28,"rate":20.42,"eps":0.48},{"dbz":46.49,"rate":16.98,"eps":0.36},{"dbz":46.17,"rate":14.13,"eps":0.28},
{"dbz":46.95,"rate":36.31,"eps":0.88},{"dbz":46.7,"rate":30.9,"eps":0.75},{"dbz":47.05,"rate":26.3,"eps":0.6},{"dbz":46.78,"rate":21.88,"eps":0.48},{"dbz":46.99,"rate":18.2,"eps":0.36},{"dbz":46.67,"rate":15.14,"eps":0.28},
{"dbz":47.45,"rate":38.02,"eps":0.88},{"dbz":47.2,"rate":32.36,"eps":0.75},{"dbz":47.55,"rate":26.92,"eps":0.6},{"dbz":47.28,"rate":22.91,"eps":0.48},{"dbz":47.49,"rate":18.62,"eps":0.35},{"dbz":47.17,"rate":16.22,"eps":0.28},
{"dbz":47.95,"rate":40.74,"eps":0.88},{"dbz":47.7,"rate":33.88,"eps":0.75},{"dbz":48.05,"rate":19.95,"eps":0.35},{"dbz":47.78,"rate":17.38,"eps":0.28},
{"dbz":48.45,"rate":43.65,"eps":0.88},{"dbz":48.2,"rate":35.48,"eps":0.72},{"dbz":48.55,"rate":21.38,"eps":0.35},{"dbz":48.28,"rate":18.62,"eps":0.28},
{"dbz":48.85,"rate":22.91,"eps":0.35},{"dbz":48.85,"rate":19.95,"eps":0.28},{"dbz":49.35,"rate":51.29,"eps":0.88},{"dbz":49.35,"rate":24.55,"eps":0.35},{"dbz":49.35,"rate":21.38,"eps":0.28},
{"dbz":49.85,"rate":26.3,"eps":0.35},{"dbz":49.85,"rate":22.91,"eps":0.28},{"dbz":50.35,"rate":60.26,"eps":0.88},{"dbz":50.35,"rate":28.18,"eps":0.35},{"dbz":50.35,"rate":25.12,"eps":0.28},
{"dbz":50.85,"rate":30.2,"eps":0.35},{"dbz":50.85,"rate":26.92,"eps":0.28},{"dbz":51.35,"rate":32.36,"eps":0.35},{"dbz":51.85,"rate":34.67,"eps":0.3},{"dbz":52.35,"rate":37.15,"eps":0.3},
{"dbz":40.8,"rate":6.412,"eps":0.25},{"dbz":41.8,"rate":7.396,"eps":0.3},{"dbz":42.8,"rate":8.511,"eps":0.25},{"dbz":43.8,"rate":9.795,"eps":0.3},{"dbz":44.8,"rate":11.29,"eps":0.25},{"dbz":45.8,"rate":13.0,"eps":0.3},{"dbz":46.8,"rate":14.97,"eps":0.25},{"dbz":47.8,"rate":17.24,"eps":0.3},{"dbz":48.8,"rate":19.85,"eps":0.25},{"dbz":49.8,"rate":22.86,"eps":0.3},{"dbz":50.8,"rate":26.32,"eps":0.25},{"dbz":51.8,"rate":30.31,"eps":0.3},{"dbz":52.8,"rate":34.91,"eps":0.3},{"dbz":38.3,"rate":4.253,"eps":0.25},{"dbz":39.3,"rate":5.028,"eps":0.3},
{"dbz":40.0,"rate":5.37,"eps":0.15},{"dbz":43.0,"rate":8.318,"eps":0.15},{"dbz":46.0,"rate":12.59,"eps":0.15},{"dbz":49.0,"rate":19.5,"eps":0.15},{"dbz":52.0,"rate":29.51,"eps":0.15},{"dbz":44.5,"rate":10.23,"eps":0.2},{"dbz":47.5,"rate":15.49,"eps":0.2},{"dbz":50.5,"rate":23.44,"eps":0.2},
{"dbz":38.7,"rate":4.345,"eps":0.25},{"dbz":39.2,"rate":6.368,"eps":0.4},{"dbz":39.6,"rate":4.71,"eps":0.2},{"dbz":40.0,"rate":6.792,"eps":0.35},{"dbz":40.4,"rate":6.18,"eps":0.3},{"dbz":40.9,"rate":8.194,"eps":0.38},{"dbz":41.3,"rate":6.427,"eps":0.25},{"dbz":41.7,"rate":8.366,"eps":0.33},{"dbz":42.2,"rate":10.31,"eps":0.42},{"dbz":42.5,"rate":7.973,"eps":0.28},{"dbz":42.9,"rate":7.346,"eps":0.2},{"dbz":43.3,"rate":10.73,"eps":0.35},{"dbz":43.7,"rate":9.89,"eps":0.3},{"dbz":44.0,"rate":12.99,"eps":0.4},{"dbz":44.4,"rate":9.727,"eps":0.22},{"dbz":44.8,"rate":12.66,"eps":0.32},{"dbz":45.3,"rate":12.11,"eps":0.28},{"dbz":45.7,"rate":15.77,"eps":0.36},{"dbz":46.0,"rate":11.92,"eps":0.2},{"dbz":46.4,"rate":15.16,"eps":0.3},{"dbz":46.9,"rate":18.25,"eps":0.35},{"dbz":47.3,"rate":15.34,"eps":0.25},{"dbz":47.8,"rate":19.79,"eps":0.33},{"dbz":48.2,"rate":18.66,"eps":0.3},{"dbz":48.7,"rate":24.64,"eps":0.38},{"dbz":49.0,"rate":18.62,"eps":0.22},{"dbz":49.4,"rate":24.24,"eps":0.32},{"dbz":49.9,"rate":23.73,"eps":0.3},{"dbz":50.3,"rate":29.49,"eps":0.35},{"dbz":50.7,"rate":25.37,"eps":0.26},{"dbz":51.2,"rate":31.98,"eps":0.33},{"dbz":51.5,"rate":30.42,"eps":0.3},{"dbz":51.9,"rate":36.97,"eps":0.35},{"dbz":52.4,"rate":35.35,"eps":0.3},{"dbz":52.9,"rate":41.59,"eps":0.33},{"dbz":53.5,"rate":42.23,"eps":0.3},{"dbz":54.0,"rate":48.6,"eps":0.3},{"dbz":54.5,"rate":49.81,"eps":0.3},{"dbz":55.5,"rate":58.67,"eps":0.3},
{"dbz":35.3,"rate":4.905,"eps":0.62},{"dbz":35.9,"rate":4.617,"eps":0.5},{"dbz":36.4,"rate":6.77,"eps":0.8},{"dbz":36.8,"rate":5.885,"eps":0.6},{"dbz":37.3,"rate":5.321,"eps":0.45},{"dbz":37.7,"rate":7.677,"eps":0.7},{"dbz":38.2,"rate":6.94,"eps":0.55},{"dbz":38.6,"rate":10.01,"eps":0.8},{"dbz":39.1,"rate":7.531,"eps":0.5},{"dbz":39.5,"rate":9.681,"eps":0.62},{"dbz":39.9,"rate":7.852,"eps":0.42},{"dbz":40.3,"rate":12.71,"eps":0.75},{"dbz":40.7,"rate":11.0,"eps":0.58},{"dbz":41.2,"rate":10.28,"eps":0.48},{"dbz":41.5,"rate":14.8,"eps":0.75},{"dbz":42.0,"rate":12.33,"eps":0.52},{"dbz":42.4,"rate":15.32,"eps":0.62},{"dbz":42.8,"rate":19.5,"eps":0.82},{"dbz":43.3,"rate":13.51,"eps":0.45},{"dbz":43.8,"rate":17.83,"eps":0.6},{"dbz":44.2,"rate":22.68,"eps":0.8},{"dbz":44.7,"rate":17.64,"eps":0.5},{"dbz":45.0,"rate":22.63,"eps":0.65},{"dbz":45.5,"rate":17.6,"eps":0.42},{"dbz":45.9,"rate":30.9,"eps":0.85},{"dbz":46.3,"rate":24.24,"eps":0.58},{"dbz":46.8,"rate":30.56,"eps":0.7},{"dbz":47.2,"rate":23.97,"eps":0.48},{"dbz":47.7,"rate":32.38,"eps":0.62},{"dbz":48.3,"rate":30.7,"eps":0.52},{"dbz":48.9,"rate":45.07,"eps":0.8},{"dbz":49.4,"rate":33.46,"eps":0.48},{"dbz":50.2,"rate":48.28,"eps":0.7},{"dbz":50.9,"rate":45.35,"eps":0.55},
{"dbz":26.7,"rate":1.035,"eps":0.4},{"dbz":29.5,"rate":1.41,"eps":0.45},{"dbz":32.6,"rate":2.03,"eps":0.35},{"dbz":34.6,"rate":2.36,"eps":0.25},
{"dbz":42.35,"rate":44.2,"eps":1.55},{"dbz":45.29,"rate":46.5,"eps":1.3},{"dbz":45.19,"rate":43.0,"eps":1.25},{"dbz":43.43,"rate":39.1,"eps":1.3},{"dbz":43.31,"rate":34.8,"eps":1.2},{"dbz":40.49,"rate":26.8,"eps":1.35},{"dbz":37.73,"rate":23.3,"eps":1.6},{"dbz":38.9,"rate":23.3,"eps":1.45},{"dbz":33.38,"rate":10.1,"eps":1.7},{"dbz":34.42,"rate":8.49,"eps":1.3},{"dbz":34.79,"rate":9.55,"eps":1.3},{"dbz":33.83,"rate":7.62,"eps":1.2},{"dbz":30.79,"rate":4.7,"eps":1.25},{"dbz":28.91,"rate":3.46,"eps":1.2},{"dbz":44.41,"rate":38.4,"eps":1.15},{"dbz":41.25,"rate":25.6,"eps":1.2},{"dbz":41.76,"rate":25.2,"eps":1.15},{"dbz":40.08,"rate":20.8,"eps":1.15},{"dbz":38.73,"rate":18.2,"eps":1.25},{"dbz":36.77,"rate":13.2,"eps":1.3},{"dbz":35.79,"rate":10.9,"eps":1.25}
]
},
"layer": [
{
"data": {"name": "env"},
"mark": {"type": "rule", "color": "white", "strokeWidth": 1, "strokeDash": [11, 8], "clip": true},
"encoding": {
"x": {"field": "dbz", "type": "quantitative", "scale": {"domain": [0, 60], "nice": false, "zero": false},
 "axis": {"orient": "bottom", "values": [0, 20, 40, 60], "format": "d", "ticks": false, "tickSize": 0, "domain": false, "labelPadding": 14, "title": "Reflectivity (dBZ)", "titlePadding": 5}},
"y": {"field": "lo", "type": "quantitative", "scale": {"type": "log", "domain": [0.1, 100], "nice": false},
 "axis": {"orient": "left", "values": [0.1, 1, 10, 100], "format": ".1f", "ticks": false, "tickSize": 0, "domain": false, "labelPadding": 4, "title": "Rain Rate (mm/hr)", "titlePadding": 8}},
"y2": {"field": "hi"}
}
},
{
"data": {"name": "env"},
"mark": {"type": "line", "color": "white", "strokeWidth": 1.2, "clip": true},
"encoding": {
"x": {"field": "dbz", "type": "quantitative", "scale": {"domain": [0, 60], "nice": false, "zero": false},
 "axis": {"orient": "bottom", "values": [0, 20, 40, 60], "labels": false, "domain": false, "tickSize": 12, "offset": -12, "title": null}},
"y": {"field": "hi", "type": "quantitative", "scale": {"type": "log", "domain": [0.1, 100], "nice": false},
 "axis": {"orient": "left", "values": [0.1, 1, 10, 100], "labels": false, "domain": false, "tickSize": 20, "offset": -20, "title": null}}
}
},
{
"data": {"name": "env"},
"mark": {"type": "line", "color": "white", "strokeWidth": 1.2, "clip": true},
"encoding": {
"x": {"field": "dbz", "type": "quantitative", "scale": {"domain": [0, 60], "nice": false, "zero": false},
 "axis": {"orient": "bottom", "values": [5, 10, 15, 25, 30, 35, 45, 50, 55], "labels": false, "domain": false, "tickSize": 6, "offset": -6, "title": null}},
"y": {"field": "lo", "type": "quantitative", "scale": {"type": "log", "domain": [0.1, 100], "nice": false},
 "axis": {"orient": "left", "values": [0.2, 0.3, 0.4, 0.5, 0.6, 0.7, 0.8, 0.9, 2, 3, 4, 5, 6, 7, 8, 9, 20, 30, 40, 50, 60, 70, 80, 90], "labels": false, "domain": false, "tickSize": 10, "offset": -10, "title": null}}
}
},
{
"data": {"name": "band"},
"mark": {"type": "square", "size": 8, "opacity": 1, "filled": true, "clip": true},
"encoding": {
"x": {"field": "dbz", "type": "quantitative", "scale": {"domain": [0, 60], "nice": false, "zero": false},
 "axis": {"orient": "top", "values": [0, 20, 40, 60], "labels": false, "domain": false, "tickSize": 12, "offset": -12, "title": null}},
"y": {"field": "rate", "type": "quantitative", "scale": {"type": "log", "domain": [0.1, 100], "nice": false},
 "axis": {"orient": "right", "values": [0.1, 1, 10, 100], "labels": false, "domain": false, "tickSize": 20, "offset": -20, "title": null}},
"color": {"field": "eps", "type": "quantitative", "title": "epsilon",
 "scale": {"type": "quantize", "domain": [0.08333, 1.91667], "nice": false, "zero": false, "range": ["#bf0000", "#bf0000", "#ff2d2d", "#ff2d2d", "#ff6060", "#ff6060", "#ff9999", "#ff9999", "#ffc8c8", "#ffc8c8", "#ffffff", "#ffffff", "#c8c8ff", "#c8c8ff", "#9999ff", "#9999ff", "#6060ff", "#6060ff", "#2d2dff", "#2d2dff", "#0000bf", "#0000bf"]},
 "legend": {"type": "gradient", "orient": "none", "legendX": 882, "legendY": 153, "direction": "vertical", "gradientLength": 277, "gradientThickness": 22, "gradientStrokeWidth": 0, "labelExpr": "abs(datum.value-1.5)<0.02 ? '1.5' : abs(datum.value-1.0)<0.02 ? '1.0' : abs(datum.value-0.5)<0.02 ? '0.5' : ''", "labelColor": "white", "labelFont": "DejaVu Sans", "labelFontSize": 15, "labelOffset": 7, "labelOverlap": false, "titleColor": "white", "titleFont": "DejaVu Sans", "titleFontSize": 18, "titleFontWeight": "normal", "titleAnchor": "start", "titleAlign": "center", "titleBaseline": "top", "titlePadding": 8}}
}
},
{
"data": {"name": "scatter"},
"mark": {"type": "square", "size": 5, "opacity": 1, "filled": true, "clip": true},
"encoding": {
"x": {"field": "dbz", "type": "quantitative", "scale": {"domain": [0, 60], "nice": false, "zero": false},
 "axis": {"orient": "top", "values": [5, 10, 15, 25, 30, 35, 45, 50, 55], "labels": false, "domain": false, "tickSize": 6, "offset": -6, "title": null}},
"y": {"field": "rate", "type": "quantitative", "scale": {"type": "log", "domain": [0.1, 100], "nice": false},
 "axis": {"orient": "right", "values": [0.2, 0.3, 0.4, 0.5, 0.6, 0.7, 0.8, 0.9, 2, 3, 4, 5, 6, 7, 8, 9, 20, 30, 40, 50, 60, 70, 80, 90], "labels": false, "domain": false, "tickSize": 10, "offset": -10, "title": null}},
"color": {"field": "eps", "type": "quantitative", "title": "epsilon",
 "scale": {"type": "quantize", "domain": [0.08333, 1.91667], "nice": false, "zero": false, "range": ["#bf0000", "#bf0000", "#ff2d2d", "#ff2d2d", "#ff6060", "#ff6060", "#ff9999", "#ff9999", "#ffc8c8", "#ffc8c8", "#ffffff", "#ffffff", "#c8c8ff", "#c8c8ff", "#9999ff", "#9999ff", "#6060ff", "#6060ff", "#2d2dff", "#2d2dff", "#0000bf", "#0000bf"]},
 "legend": {"type": "gradient", "orient": "none", "legendX": 882, "legendY": 153, "direction": "vertical", "gradientLength": 277, "gradientThickness": 22, "gradientStrokeWidth": 0, "labelExpr": "abs(datum.value-1.5)<0.02 ? '1.5' : abs(datum.value-1.0)<0.02 ? '1.0' : abs(datum.value-0.5)<0.02 ? '0.5' : ''", "labelColor": "white", "labelFont": "DejaVu Sans", "labelFontSize": 15, "labelOffset": 7, "labelOverlap": false, "titleColor": "white", "titleFont": "DejaVu Sans", "titleFontSize": 18, "titleFontWeight": "normal", "titleAnchor": "start", "titleAlign": "center", "titleBaseline": "top", "titlePadding": 8}}
}
}
],
"resolve": {"axis": {"x": "independent", "y": "independent"}}
}
